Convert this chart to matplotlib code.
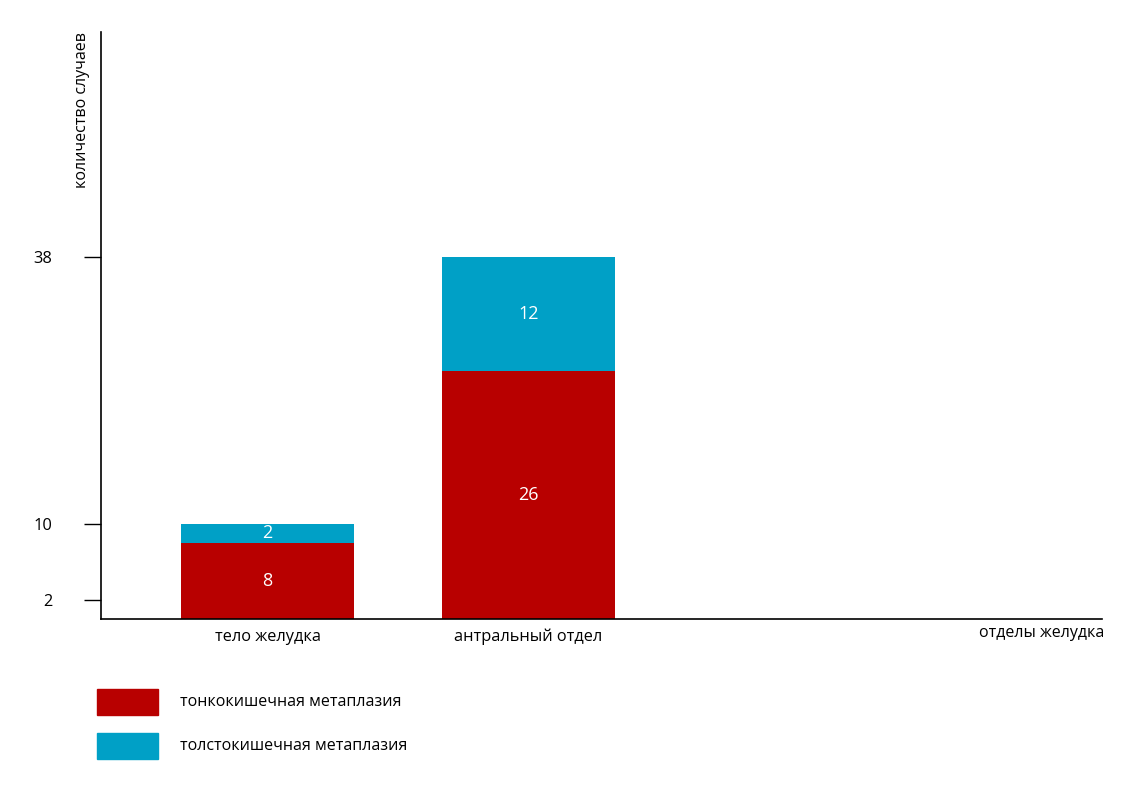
import matplotlib
matplotlib.use("Agg")
import matplotlib.pyplot as plt
from matplotlib.patches import Rectangle

plt.rcParams['font.family'] = ['Open Sans', 'DejaVu Sans']

categories = ["тело желудка", "антральный отдел"]
small_intestinal = [8, 26]
large_intestinal = [2, 12]
series_names = ["тонкокишечная метаплазия", "толстокишечная метаплазия"]
y_ticks = [2, 10, 38]
colors = ["#B80000", "#00A0C6"]

W, H = 1132, 789
fig = plt.figure(figsize=(W / 100, H / 100), dpi=100)
ax = fig.add_axes([101 / W, 1 - 619 / H, (1102 - 101) / W, (619 - 32) / H])

x = list(range(len(categories)))
width = 0.663
ax.bar(x, small_intestinal, width=width, color=colors[0])
ax.bar(x, large_intestinal, width=width, bottom=small_intestinal, color=colors[1])

for i in x:
    ax.text(i, small_intestinal[i] / 2, str(small_intestinal[i]), ha='center', va='center',
            color='white', fontsize=13)
    ax.text(i, small_intestinal[i] + large_intestinal[i] / 2, str(large_intestinal[i]),
            ha='center', va='center', color='white', fontsize=13)

ax.set_xlim(-0.638, 3.197)
ax.set_ylim(0, 61.6)
ax.set_xticks(x)
ax.set_xticklabels(categories, fontsize=11.8)
ax.tick_params(axis='x', length=0, pad=7)
ax.set_yticks(y_ticks)
ax.set_yticklabels([str(v) for v in y_ticks], fontsize=11.8)
ax.tick_params(axis='y', length=12.2, width=1.0, pad=23, direction='out')
for s in ['top', 'right']:
    ax.spines[s].set_visible(False)
for s in ['left', 'bottom']:
    ax.spines[s].set_linewidth(1.2)

fig.text(82 / W, 1 - 32 / H, "количество случаев", rotation=90, ha='center', va='top', fontsize=11.5)
fig.text(1104 / W, 1 - 633 / H, "отделы желудка", ha='right', va='center', fontsize=11.5)

# legend
leg_y = [689, 733]
for k in range(2):
    fig.patches.append(Rectangle((97 / W, 1 - (leg_y[k] + 26) / H), 61 / W, 26 / H,
                                 transform=fig.transFigure, color=colors[k]))
    fig.text(180 / W, 1 - (leg_y[k] + 13) / H, series_names[k], ha='left', va='center', fontsize=11.5)

fig.savefig("out.png", dpi=100)
